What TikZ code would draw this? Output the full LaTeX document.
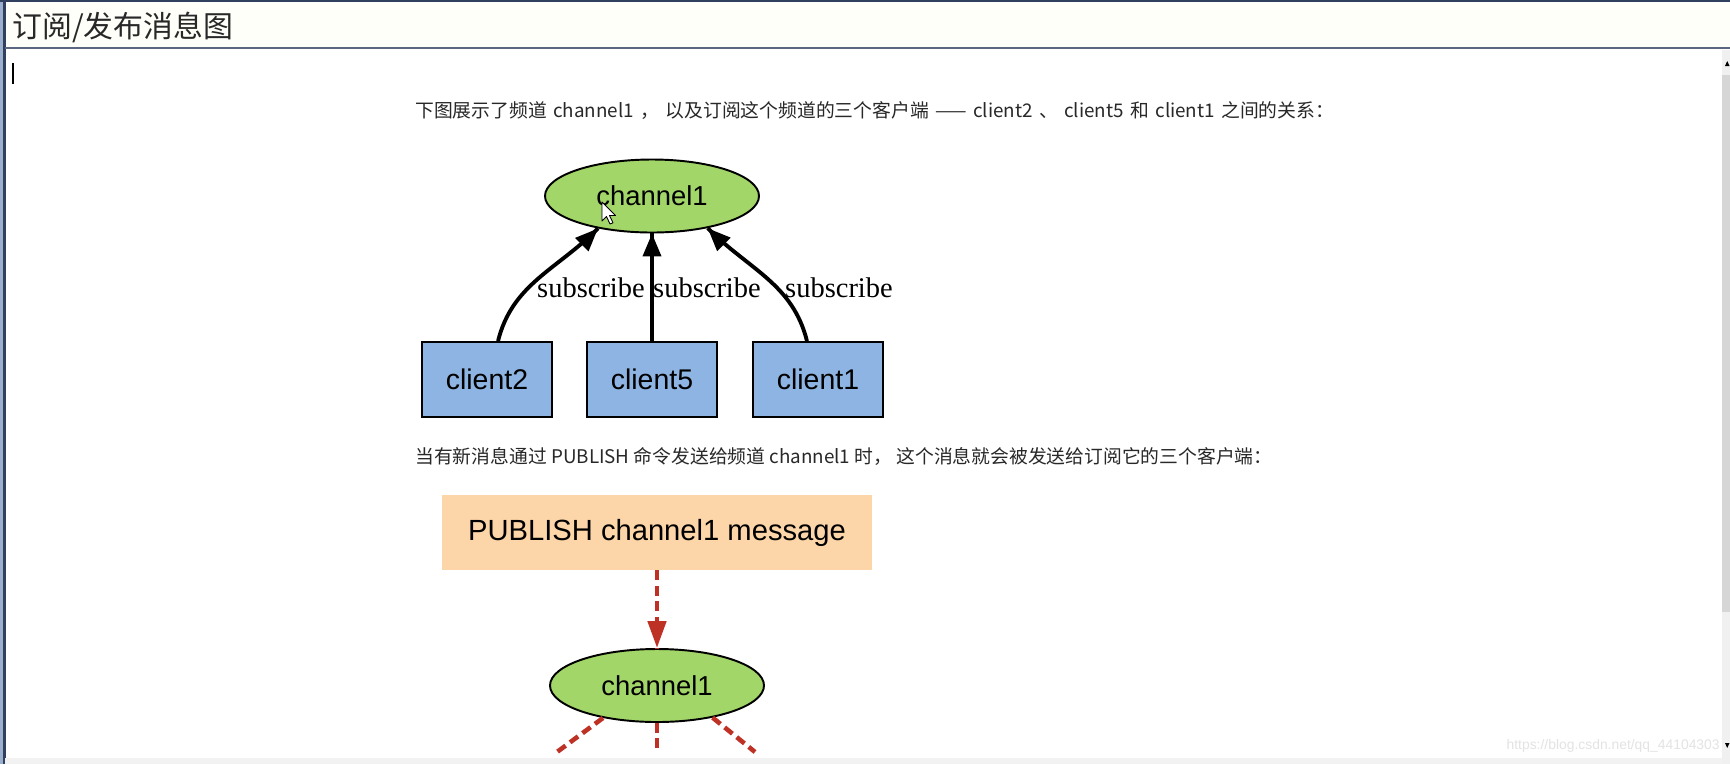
\documentclass[tikz,border=0pt]{standalone}
\usepackage{fontspec}
\usetikzlibrary{calc,shapes.geometric,arrows.meta,decorations.markings}
\newfontfamily\cjk{Noto Sans CJK SC}
\newfontfamily\arialfont{Liberation Sans}
\newfontfamily\timesfont{Liberation Serif}
\definecolor{chanfill}{RGB}{163,214,104}
\definecolor{clientfill}{RGB}{141,180,226}
\definecolor{pubfill}{RGB}{252,214,168}
\definecolor{pubred}{RGB}{190,50,38}
\definecolor{frameblue}{RGB}{50,64,96}
\definecolor{framelight}{RGB}{154,176,204}
\definecolor{textgray}{RGB}{40,40,40}
\tikzset{
    channel/.style={ellipse, draw=black, line width=1.1pt, fill=chanfill,
        minimum width=42.8mm, minimum height=14.6mm, inner sep=0pt,
        font=\arialfont\fontsize{15.6pt}{18pt}\selectfont},
    client/.style={rectangle, draw=black, line width=1.1pt, fill=clientfill,
        minimum width=26mm, minimum height=15mm, inner sep=0pt,
        font=\arialfont\fontsize{16.2pt}{19pt}\selectfont},
    sublabel/.style={inner sep=0pt, font=\timesfont\fontsize{16.2pt}{19pt}\selectfont},
    para/.style={anchor=west, inner sep=0pt, text=textgray,
        font=\cjk\fontsize{10.7pt}{12pt}\selectfont},
    subarrow/.style={line width=2.2pt, black,
        decoration={markings,mark=at position 1 with {\arrow{Triangle[length=4.6mm,width=3.6mm]}}},
        postaction={decorate}},
    publine/.style={line width=2.6pt, pubred, dash pattern=on 2mm off 1.1mm},
    pubarrow/.style={publine,
        decoration={markings,mark=at position 1 with {\arrow{Triangle[length=5.4mm,width=3.6mm]}}},
        postaction={decorate}}
}
\begin{document}
\begin{tikzpicture}[x=0.2mm,y=-0.2mm]
    \useasboundingbox (0,0) rectangle (1730,764);
    % window frame
    \fill[white] (0,0) rectangle (1730,764);
    \fill[yellow!2] (5,0) rectangle (1730,48);
    \fill[framelight] (0,0) rectangle (3.5,764);
    \draw[frameblue, line width=1.2pt] (4.5,0) -- (4.5,764);
    \draw[frameblue, line width=1pt] (0,0.8) -- (1730,0.8);
    \draw[frameblue!80, line width=1.1pt] (5,48) -- (1730,48);
    \fill[gray!10] (5,758) rectangle (1722,764);
    % scroll bar
    \fill[gray!12] (1722,50) rectangle (1730,764);
    \fill[gray!32] (1722,75) rectangle (1730,612);
    \fill[black] (1725,66) -- (1729.5,66) -- (1727.2,61) -- cycle;
    \fill[black] (1725,743) -- (1729.5,743) -- (1727.2,748) -- cycle;

    \node[anchor=west, inner sep=0pt, text=textgray, font=\cjk\fontsize{17pt}{20pt}\selectfont] (title) at (12,27) {订阅/发布消息图};
    \draw[line width=0.9pt] (13,63) -- (13,84);

    \node[para] (text1) at (415,111) {\spaceskip=0.34em\relax 下图展示了频道 channel1 ， 以及订阅这个频道的三个客户端 —— client2 、 client5 和 client1 之间的关系：};

    % subscribe graph
    \node[channel] (chanA) at (652,196) {channel1};
    \node[client] (cl2) at ($(chanA)+(-165,183.5)$) {client2};
    \node[client] (cl5) at ($(chanA)+(0,183.5)$) {client5};
    \node[client] (cl1) at ($(chanA)+(166,183.5)$) {client1};

    \node[sublabel] (lab2) at ($(chanA)+(-61,92)$) {subscribe};
    \node[sublabel] (lab5) at ($(chanA)+(55,92)$) {subscribe};
    \node[sublabel] (lab1) at ($(chanA)+(187,92)$) {subscribe};

    \draw[subarrow] (cl2.74) to[out=76,in=-135] (chanA.-149);
    \draw[subarrow] (cl5.north) -- (chanA.south);
    \draw[subarrow] (cl1.106) to[out=104,in=-45] (chanA.-30);

    % mouse pointer
    \draw[black, fill=white, line width=0.5pt, line join=round] (602,202) -- (602,221) -- (606.5,216.5) -- (610,224) -- (613,222.8) -- (609.5,215.5) -- (615.5,215.5) -- cycle;

    \node[para] (text2) at (415,456) {当有新消息通过 PUBLISH 命令发送给频道 channel1 时， 这个消息就会被发送给订阅它的三个客户端：};

    % publish graph
    \node[rectangle, fill=pubfill, minimum width=86mm, minimum height=15mm, inner sep=0pt,
        font=\arialfont\fontsize{16.6pt}{19pt}\selectfont] (pub) at (657,532.5) {PUBLISH channel1 message};
    \node[channel] (chanB) at (657,685.5) {channel1};
    \draw[pubarrow] (pub.south) -- (chanB.north);

    \coordinate (outL) at (557,752);
    \coordinate (outM) at (657,752);
    \coordinate (outR) at (755,752);
    \draw[publine] (chanB.-149) -- (outL);
    \draw[publine] (chanB.south) -- (outM);
    \draw[publine] (chanB.-30) -- (outR);

    \node[anchor=east, inner sep=0pt, text=gray!22, font=\arialfont\fontsize{7.9pt}{9pt}\selectfont] (mark) at (1720,746) {https://blog.csdn.net/qq\_44104303};
\end{tikzpicture}
\end{document}
